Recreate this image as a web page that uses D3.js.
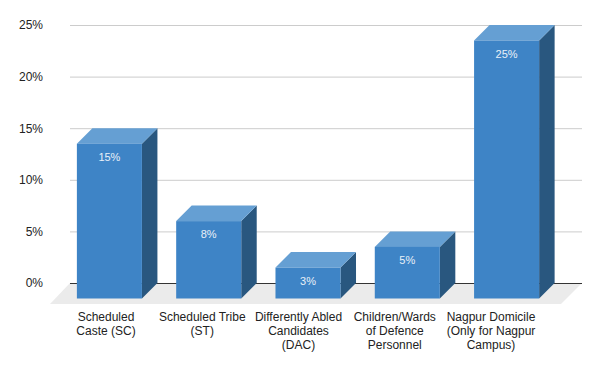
<!DOCTYPE html>
<html>
<head>
<meta charset="utf-8">
<script src="https://cdn.jsdelivr.net/npm/d3@7"></script>
<style>
  body { margin: 0; background: #fff; }
  svg { display: block; font-family: Arial, "Liberation Sans", sans-serif; }
</style>
</head>
<body>
<script>
// data
const categories = [
    ["Scheduled", "Caste (SC)"],
    ["Scheduled Tribe", "(ST)"],
    ["Differently Abled", "Candidates", "(DAC)"],
    ["Children/Wards", "of Defence", "Personnel"],
    ["Nagpur Domicile", "(Only for Nagpur", "Campus)"]
];
const values = [15, 7.5, 3, 5, 25];
const yTicks = [0, 5, 10, 15, 20, 25];

const width = 600, height = 371;
const depth = 15.5;

const svg = d3.select("body").append("svg")
    .attr("width", width)
    .attr("height", height);

const keys = categories.map(c => c.join(" "));

const y = d3.scaleLinear().domain([0, 25]).range([283, 25]);

// front face of the bars
const x = d3.scaleBand().domain(keys).range([60, 556])
    .paddingInner(0.345).paddingOuter(0.17);

// labels sit along the front edge of the floor
const xLabel = d3.scalePoint().domain(keys).range([106, 491]);

const wallLeft = 70, wallRight = 582, floorDepth = 21;

// floor
svg.append("path")
    .attr("fill", "#ebebeb")
    .attr("d", `M${wallLeft},${y(0)}L${wallRight},${y(0)}L${wallRight - floorDepth},${y(0) + floorDepth}L${wallLeft - floorDepth + 1},${y(0) + floorDepth}Z`);

// grid
const yAxis = svg.append("g")
    .attr("transform", `translate(${wallLeft},0)`)
    .call(d3.axisLeft(y).tickValues(yTicks).tickSize(-(wallRight - wallLeft)).tickPadding(27).tickFormat(d => d + "%"));
yAxis.select(".domain").remove();
yAxis.selectAll(".tick line")
    .attr("stroke", d => d === 0 ? "#333" : "#ccc");
yAxis.selectAll(".tick text")
    .attr("fill", "#222")
    .attr("font-size", 12)
    .attr("font-family", "Arial, 'Liberation Sans', sans-serif");

// bars
const data = keys.map((k, i) => ({ key: k, value: values[i] }));

const bar = svg.append("g").selectAll("g")
    .data(data)
    .join("g");

const fx = d => x(d.key);
const fy = d => y(d.value) + depth;
const fb = y(0) + depth;
const w = x.bandwidth();

bar.append("path")
    .attr("fill", "#29577f")
    .attr("d", d => `M${fx(d) + w},${fy(d)}L${fx(d) + w + depth},${fy(d) - depth}L${fx(d) + w + depth},${fb - depth}L${fx(d) + w},${fb}Z`);

bar.append("path")
    .attr("fill", "#659fd3")
    .attr("d", d => `M${fx(d)},${fy(d)}L${fx(d) + depth},${fy(d) - depth}L${fx(d) + w + depth},${fy(d) - depth}L${fx(d) + w},${fy(d)}Z`);

bar.append("rect")
    .attr("fill", "#3e84c6")
    .attr("x", fx)
    .attr("y", fy)
    .attr("width", w)
    .attr("height", d => fb - fy(d));

bar.append("text")
    .attr("x", d => fx(d) + w / 2)
    .attr("y", d => fy(d) + 17)
    .attr("text-anchor", "middle")
    .attr("font-size", 11)
    .attr("fill", "#e9f0f8")
    .text(d => d3.format(".0f")(d.value) + "%");

// category labels
svg.append("g").selectAll("text")
    .data(categories)
    .join("text")
    .attr("text-anchor", "middle")
    .attr("font-size", 12)
    .attr("fill", "#222")
    .attr("transform", (c, i) => `translate(${xLabel(keys[i])},321)`)
    .selectAll("tspan")
    .data(c => c)
    .join("tspan")
    .attr("x", 0)
    .attr("dy", (t, j) => j === 0 ? 0 : 14)
    .text(t => t);
</script>
</body>
</html>
